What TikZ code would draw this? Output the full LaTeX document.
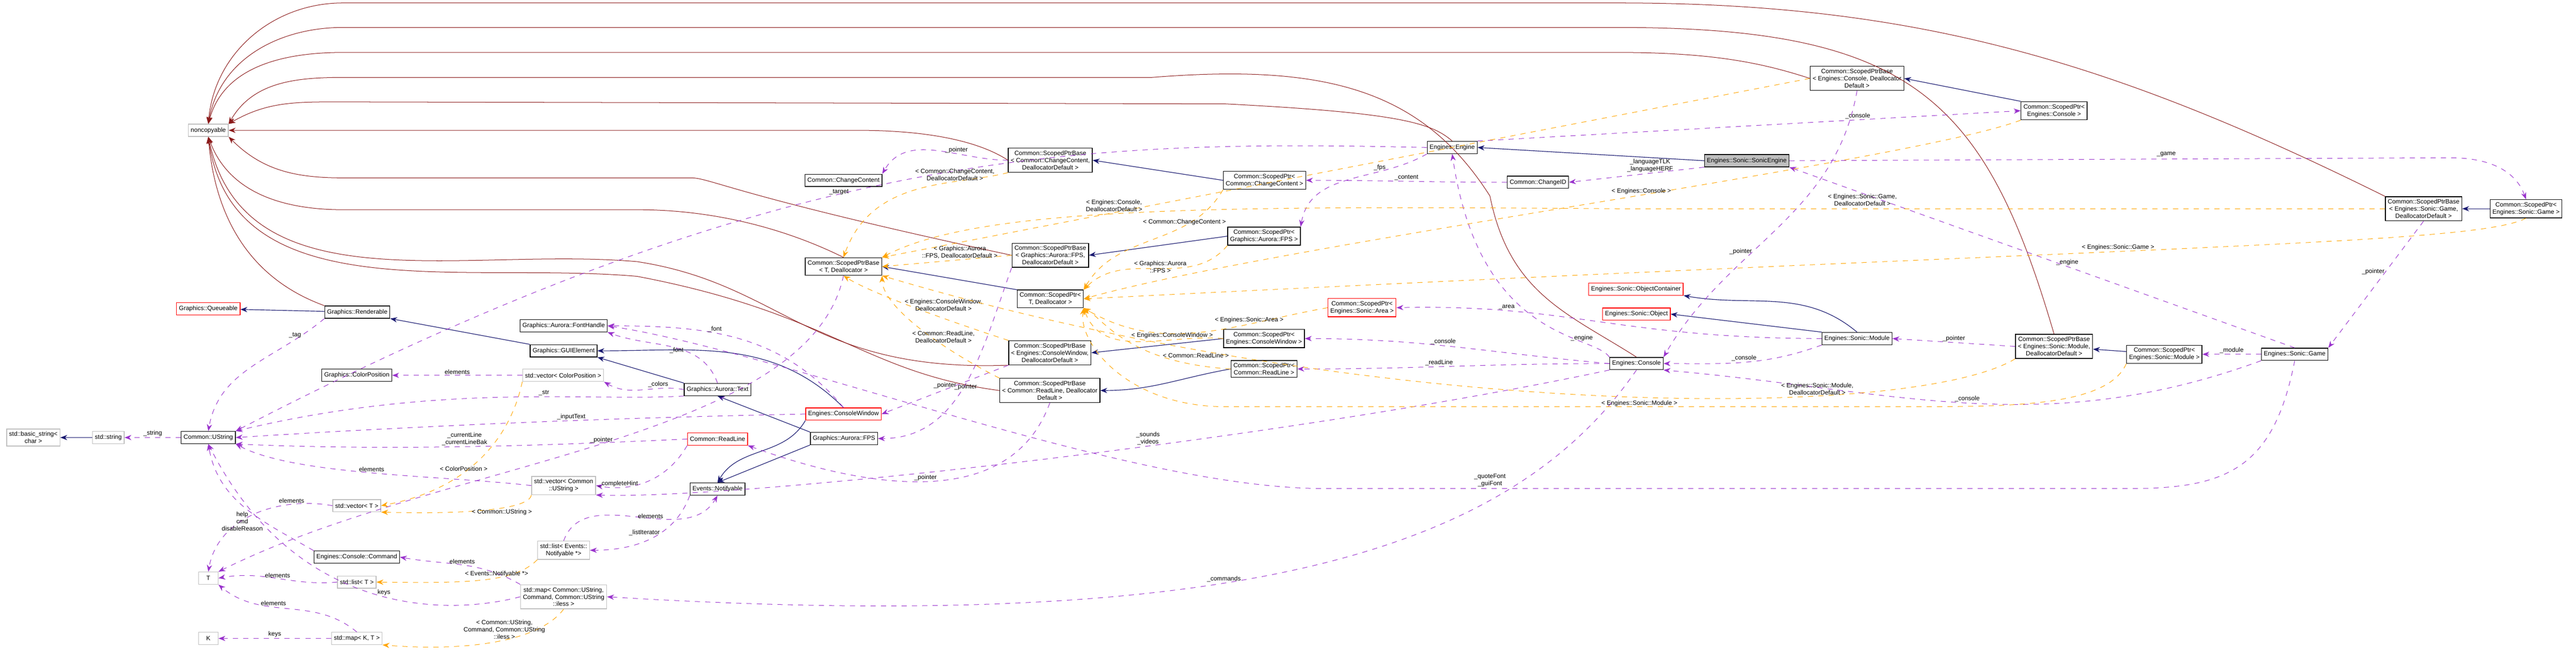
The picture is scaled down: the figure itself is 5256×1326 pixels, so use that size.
\documentclass[tikz,border=0pt]{standalone}
\usepackage{fontspec}
\setmainfont{Liberation Sans}
\usetikzlibrary{arrows.meta}
\definecolor{navyc}{RGB}{25,25,112}
\definecolor{usec}{RGB}{153,50,204}
\definecolor{tmplc}{RGB}{255,165,0}
\definecolor{ncc}{RGB}{139,26,26}
\definecolor{grayb}{RGB}{191,191,191}
\tikzset{
 x=0.01cm,y=-0.01cm,
 every node/.style={font=\fontsize{3.6pt}{4.18pt}\selectfont},
 box/.style={draw=black,fill=white,line width=0.4pt,inner xsep=1.4pt,inner ysep=1.5pt,minimum height=0.25cm,align=center},
 ext/.style={box,draw=grayb},
 redb/.style={box,draw=red},
 hl/.style={box,fill=black!25},
 lbl/.style={fill=none,inner sep=0.5pt,align=center},
 inh/.style={draw=navyc,line width=0.35pt,-{Stealth[length=4pt,width=3pt]}},
 usee/.style={draw=usec,dashed,line width=0.3pt,-{Stealth[length=4pt,width=3pt]}},
 tmpl/.style={draw=tmplc,dashed,line width=0.3pt,-{Stealth[length=4pt,width=3pt]}},
 ncl/.style={draw=ncc,line width=0.3pt,{Stealth[length=4pt,width=3pt]}-},
}
\begin{document}
\begin{tikzpicture}
\useasboundingbox (0,0) rectangle (5256,1326);
% nodes
\node[ext] (nc) at (425,266) {noncopyable};
\node[redb] (que) at (425,630) {Graphics::Queueable};
\node[box] (rend) at (729,637) {Graphics::Renderable};
\node[box] (fh) at (1150,665) {Graphics::Aurora::FontHandle};
\node[box] (gui) at (1150,716) {Graphics::GUIElement};
\node[box] (cp) at (728,766) {Graphics::ColorPosition};
\node[ext] (vcp) at (1149,766) {std::vector< ColorPosition >};
\node[ext] (bstr) at (68,893) {std::basic\_string<\\char >};
\node[ext] (str) at (221,893) {std::string};
\node[box] (ustr) at (425,893) {Common::UString};
\node[ext] (vus) at (1150,991) {std::vector< Common\\::UString >};
\node[ext] (vt) at (728,1032) {std::vector< T >};
\node[ext,minimum width=0.4cm] (tT) at (425,1180) {T};
\node[box] (cmd) at (728,1137) {Engines::Console::Command};
\node[ext] (lnot) at (1150,1123) {std::list< Events::\\Notifyable *>};
\node[ext] (lt) at (728,1188) {std::list< T >};
\node[ext] (mcmd) at (1150,1218) {std::map< Common::UString,\\Command, Common::UString\\::iless >};
\node[ext,minimum width=0.4cm] (kK) at (425,1303) {K};
\node[ext] (mkt) at (728,1303) {std::map< K, T >};
\node[box] (sccb) at (2143,327) {Common::ScopedPtrBase\\< Common::ChangeContent,\\DeallocatorDefault >};
\node[box] (cc) at (1721,368) {Common::ChangeContent};
\node[box] (stb) at (1721,544) {Common::ScopedPtrBase\\< T, Deallocator >};
\node[box] (sfb) at (2143,521) {Common::ScopedPtrBase\\< Graphics::Aurora::FPS,\\DeallocatorDefault >};
\node[box] (stp) at (2143,610) {Common::ScopedPtr<\\T, Deallocator >};
\node[box] (spcc) at (2580,368) {Common::ScopedPtr<\\Common::ChangeContent >};
\node[box] (spfps) at (2579,482) {Common::ScopedPtr<\\Graphics::Aurora::FPS >};
\node[box] (scwb) at (2142,720) {Common::ScopedPtrBase\\< Engines::ConsoleWindow,\\DeallocatorDefault >};
\node[box] (srlb) at (2142,797) {Common::ScopedPtrBase\\< Common::ReadLine, Deallocator\\Default >};
\node[box] (spcw) at (2579,691) {Common::ScopedPtr<\\Engines::ConsoleWindow >};
\node[box] (sprl) at (2579,753) {Common::ScopedPtr<\\Common::ReadLine >};
\node[box] (text) at (1464,795) {Graphics::Aurora::Text};
\node[redb] (cwin) at (1721,845) {Engines::ConsoleWindow};
\node[redb] (rl) at (1464,896) {Common::ReadLine};
\node[box] (fps) at (1722,895) {Graphics::Aurora::FPS};
\node[box] (notif) at (1464,998) {Events::Notifyable};
\node[box] (scb) at (3789,160) {Common::ScopedPtrBase\\< Engines::Console, Deallocator\\Default >};
\node[box] (eng) at (2963,301) {Engines::Engine};
\node[hl] (se) at (3564,328) {Engines::Sonic::SonicEngine};
\node[box] (cid) at (3138,372) {Common::ChangeID};
\node[redb] (ocont) at (3338,590) {Engines::Sonic::ObjectContainer};
\node[redb] (sobj) at (3339,641) {Engines::Sonic::Object};
\node[redb] (sparea) at (2779,628) {Common::ScopedPtr<\\Engines::Sonic::Area >};
\node[box] (con) at (3339,742) {Engines::Console};
\node[box] (mod) at (3789,691) {Engines::Sonic::Module};
\node[box] (spcon) at (4191,226) {Common::ScopedPtr<\\Engines::Console >};
\node[box] (sgb) at (4945,426) {Common::ScopedPtrBase\\< Engines::Sonic::Game,\\DeallocatorDefault >};
\node[box] (spg) at (5154,426) {Common::ScopedPtr<\\Engines::Sonic::Game >};
\node[box] (smb) at (4191,707) {Common::ScopedPtrBase\\< Engines::Sonic::Module,\\DeallocatorDefault >};
\node[box] (spm) at (4416,723) {Common::ScopedPtr<\\Engines::Sonic::Module >};
\node[box] (game) at (4682,723) {Engines::Sonic::Game};

% noncopyable inheritance
\draw[ncl] (nc.north) to[out=85,in=180] (700,6) -- (3300,6) .. controls (3900,6) and (4300,120) .. (sgb.north west);
\draw[ncl] (nc.north) to[out=80,in=180] (700,56) -- (3300,56) .. controls (3900,56) and (4050,200) .. (smb.north);
\draw[ncl] (nc.north) to[out=75,in=180] (700,107) -- (3300,107) .. controls (3500,107) and (3600,130) .. (scb.west);
\draw[ncl] (nc.north east) to[out=60,in=180] (700,158) -- (2350,158) .. controls (2700,130) and (2900,180) .. (3040,400) .. controls (3080,600) and (3200,640) .. (con.north);
\draw[ncl] (nc.north east) to[out=30,in=180] (700,208) -- (2500,212) .. controls (2850,230) and (2920,250) .. (eng.north);
\draw[ncl] (nc.east) -- (1750,266) .. controls (1900,266) and (2000,290) .. (sccb.west);
\draw[ncl] (nc.south east) to[out=-45,in=180] (700,363) -- (1410,363) .. controls (1450,363) and (1500,400) .. (sfb.west);
\draw[ncl] (nc.south) to[out=-70,in=180] (700,428) -- (1300,428) .. controls (1500,428) and (1650,490) .. (stb.north);
\draw[ncl] (nc.south) to[out=-78,in=175] (1300,534) .. controls (1600,580) and (1650,760) .. (scwb.south west);
\draw[ncl] (nc.south) to[out=-82,in=175] (1300,564) .. controls (1700,640) and (1760,760) .. (srlb.west);
\draw[ncl] (nc.south) to[out=-85,in=160] (rend.north west);

% inheritance
\draw[inh] (rend) -- (que);
\draw[inh] (gui.north west) -- (rend.south east);
\draw[inh] (text.north west) -- (gui.south east);
\draw[inh] (cwin.north) to[out=135,in=0] (gui.east);
\draw[inh] (cwin.south west) to[out=-120,in=60] (notif.north);
\draw[inh] (fps.north west) -- (text.south);
\draw[inh] (fps.south west) -- (notif.north);
\draw[inh] (str) -- (bstr);
\draw[inh] (stp.north west) -- (stb.east);
\draw[inh] (spcc.west) -- (sccb.east);
\draw[inh] (spfps.west) -- (sfb.east);
\draw[inh] (spcw.west) -- (scwb.east);
\draw[inh] (sprl.west) to[out=190,in=0] (srlb.east);
\draw[inh] (spcon.north west) -- (scb.east);
\draw[inh] (spg) -- (sgb);
\draw[inh] (spm) -- (smb);
\draw[inh] (se.west) -- (eng.east);
\draw[inh] (mod.north) to[out=140,in=-10] (ocont.south east);
\draw[inh] (mod.north west) -- (sobj.east);

% usage
\draw[usee] (ustr) -- node[lbl,above]{\_string} (str);
\draw[usee] (rend.south west) to[out=220,in=80] node[lbl,pos=0.15,left]{\_tag} (ustr.north);
\draw[usee] (eng.west) .. controls (2200,285) and (1600,300) .. node[lbl,pos=0.55,left]{\_target} (ustr.north east);
\draw[usee] (sccb.west) to[out=180,in=60] node[lbl,above,pos=0.35]{\_pointer} (cc.north east);
\draw[usee] (text.north) to[out=110,in=-20] node[lbl,pos=0.4,left]{\_font} (fh.south east);
\draw[usee] (cwin.north) to[out=130,in=0] node[lbl,pos=0.6,above]{\_font} (fh.east);
\draw[usee] (text.west) to[out=170,in=-30] node[lbl,pos=0.3,above]{\_colors} (vcp.south east);
\draw[usee] (text.south west) .. controls (1200,820) and (900,780) .. node[lbl,pos=0.4,above]{\_str} (ustr.north east);
\draw[usee] (cwin.west) .. controls (1400,850) and (1000,860) .. node[lbl,pos=0.5,above]{\_inputText} (ustr.east);
\draw[usee] (rl.west) .. controls (1100,910) and (800,920) .. node[lbl,pos=0.5,above]{\_currentLine\\\_currentLineBak} (ustr.south east);
\draw[usee] (vcp) -- node[lbl,above]{elements} (cp);
\draw[usee] (vus.west) .. controls (900,970) and (600,970) .. node[lbl,pos=0.5,above]{elements} (ustr.south east);
\draw[usee] (rl.south west) to[out=-120,in=-10] node[lbl,pos=0.6,left]{\_completeHint} (vus.east);
\draw[usee] (con.south west) .. controls (2600,900) and (1500,1020) .. node[lbl,pos=0.4,above]{\_sounds\\\_videos} (vus.south east);
\draw[usee] (vt.west) to[out=170,in=80] node[lbl,pos=0.25,above]{elements} (tT.north);
\draw[usee] (lt.west) to[out=185,in=10] node[lbl,above]{elements} (tT.east);
\draw[usee] (mkt.north) to[out=140,in=-40] node[lbl,pos=0.6,above]{elements} (tT.south east);
\draw[usee] (mkt) -- node[lbl,above]{keys} (kK);
\draw[usee] (cmd.north west) to[out=150,in=-80] node[lbl,pos=0.35,left]{help\\cmd\\disableReason} (ustr.south);
\draw[usee] (mcmd.north west) to[out=150,in=-10] node[lbl,pos=0.5,above]{elements} (cmd.east);
\draw[usee] (mcmd.west) .. controls (900,1260) and (600,1250) .. node[lbl,pos=0.45,above]{keys} (ustr.south);
\draw[usee] (stb.south) .. controls (1650,900) and (900,940) .. node[lbl,pos=0.5,above]{\_pointer} (tT.north east);
\draw[usee] (lnot.north) to[out=70,in=-120] node[lbl,pos=0.5,right]{elements} (notif.south);
\draw[usee] (notif.south west) to[out=-110,in=0] node[lbl,pos=0.4,left]{\_listIterator} (lnot.east);
\draw[usee] (scwb.south west) -- node[lbl,pos=0.5,above]{\_pointer} (cwin.east);
\draw[usee] (sfb.south west) to[out=-110,in=0] node[lbl,pos=0.5,below]{\_pointer} (fps.east);
\draw[usee] (srlb.south) to[out=-110,in=-20] node[lbl,pos=0.5,above]{\_pointer} (rl.south east);
\draw[usee] (con.south) .. controls (3100,1100) and (2600,1300) .. node[lbl,pos=0.6,above]{\_commands} (mcmd.east);
\draw[usee] (game.south) .. controls (4640,950) and (4550,997) .. (4350,997) -- (2700,997) .. controls (2300,997) and (1600,720) .. (fh.east);
\node[lbl] at (3040,980) {\_quoteFont\\\_guiFont};
\draw[usee] (eng.north east) -- node[lbl,pos=0.7,above]{\_console} (spcon.west);
\draw[usee] (eng.south west) to[out=-150,in=80] node[lbl,pos=0.3,above]{\_fps} (spfps.north east);
\draw[usee] (cid.west) to[out=180,in=0] node[lbl,pos=0.5,above]{\_content} (spcc.east);
\draw[usee] (se.south west) -- node[lbl,pos=0.4,above]{\_languageTLK\\\_languageHERF} (cid.east);
\draw[usee] (se.east) -- (5000,322) to[out=0,in=110] (spg.north);
\node[lbl] at (4420,315) {\_game};
\draw[usee] (game.north) -- node[lbl,pos=0.45,above]{\_engine} (se.south east);
\draw[usee] (scb.south) to[out=-100,in=60] node[lbl,pos=0.6,left]{\_pointer} (con.north east);
\draw[usee] (sgb.south) -- node[lbl,pos=0.4,left]{\_pointer} (game.north east);
\draw[usee] (smb.west) -- node[lbl,pos=0.5,above]{\_pointer} (mod.east);
\draw[usee] (game) -- node[lbl,above]{\_module} (spm);
\draw[usee] (game.south west) to[out=200,in=-5] node[lbl,pos=0.5,above]{\_console} (con.south east);
\draw[usee] (mod.south west) to[out=200,in=0] node[lbl,pos=0.5,above]{\_console} (con.east);
\draw[usee] (con.north west) .. controls (3250,680) and (3020,700) .. node[lbl,pos=0.25,above]{\_engine} (eng.south);
\draw[usee] (mod.west) .. controls (3300,690) and (3200,620) .. node[lbl,pos=0.75,above]{\_area} (sparea.east);
\draw[usee] (con.west) to[out=175,in=0] node[lbl,pos=0.55,above]{\_console} (spcw.east);
\draw[usee] (con.west) to[out=180,in=0] node[lbl,pos=0.55,above]{\_readLine} (sprl.east);

% templates
\draw[tmpl] (sccb.south west) .. controls (1950,380) and (1780,360) .. node[lbl,pos=0.3,above]{< Common::ChangeContent,\\DeallocatorDefault >} (stb.north);
\draw[tmpl] (sfb.west) -- node[lbl,pos=0.4,above]{< Graphics::Aurora\\::FPS, DeallocatorDefault >} (stb.east);
\draw[tmpl] (scwb.north west) .. controls (1950,660) and (1780,600) .. (stb.south);
\node[lbl] at (1925,622) {< Engines::ConsoleWindow,\\DeallocatorDefault >};
\draw[tmpl] (srlb.north west) .. controls (1900,700) and (1800,620) .. (stb.south east);
\node[lbl] at (1925,688) {< Common::ReadLine,\\DeallocatorDefault >};
\draw[tmpl] (scb.west) -- node[lbl,pos=0.75,above]{< Engines::Console,\\DeallocatorDefault >} (stb.north east);
\draw[tmpl] (sgb.west) -- (3300,426) .. controls (2500,420) and (2000,420) .. (stb.north east);
\node[lbl] at (3800,408) {< Engines::Sonic::Game,\\DeallocatorDefault >};
\draw[tmpl] (smb.south west) .. controls (3900,860) and (2800,860) .. node[lbl,pos=0.3,above]{< Engines::Sonic::Module,\\DeallocatorDefault >} (stb.south east);
\draw[tmpl] (spcc.south west) to[out=-120,in=60] node[lbl,pos=0.3,above]{< Common::ChangeContent >} (stp.north east);
\draw[tmpl] (spfps.south west) to[out=-130,in=45] node[lbl,pos=0.3,left]{< Graphics::Aurora\\::FPS >} (stp.north east);
\draw[tmpl] (sparea.west) to[out=190,in=-30] node[lbl,pos=0.3,above]{< Engines::Sonic::Area >} (stp.south east);
\draw[tmpl] (spcw.west) to[out=175,in=-70] node[lbl,pos=0.3,above]{< Engines::ConsoleWindow >} (stp.south east);
\draw[tmpl] (sprl.west) .. controls (2300,740) and (2250,650) .. (stp.south east);
\node[lbl] at (2440,725) {< Common::ReadLine >};
\draw[tmpl] (spcon.south west) .. controls (3900,330) and (2600,500) .. node[lbl,pos=0.45,above]{< Engines::Console >} (stp.east);
\draw[tmpl] (spg.south) .. controls (5050,500) and (4400,500) .. node[lbl,pos=0.55,above]{< Engines::Sonic::Game >} (stp.east);
\draw[tmpl] (spm.south west) .. controls (4300,830) and (4100,830) .. (3900,830) -- (2500,830) .. controls (2300,830) and (2200,700) .. (stp.south east);
\node[lbl] at (3345,823) {< Engines::Sonic::Module >};
\draw[tmpl] (vcp.south west) .. controls (1040,900) and (950,1000) .. node[lbl,pos=0.6,above]{< ColorPosition >} (vt.east);
\draw[tmpl] (vus.south west) .. controls (1080,1040) and (950,1050) .. node[lbl,pos=0.4,below]{< Common::UString >} (vt.south east);
\draw[tmpl] (lnot.south west) .. controls (1050,1190) and (950,1190) .. node[lbl,pos=0.4,above]{< Events::Notifyable *>} (lt.east);
\draw[tmpl] (mcmd.south) .. controls (1100,1310) and (950,1330) .. node[lbl,pos=0.45,above]{< Common::UString,\\Command, Common::UString\\::iless >} (mkt.south east);
\end{tikzpicture}
\end{document}
